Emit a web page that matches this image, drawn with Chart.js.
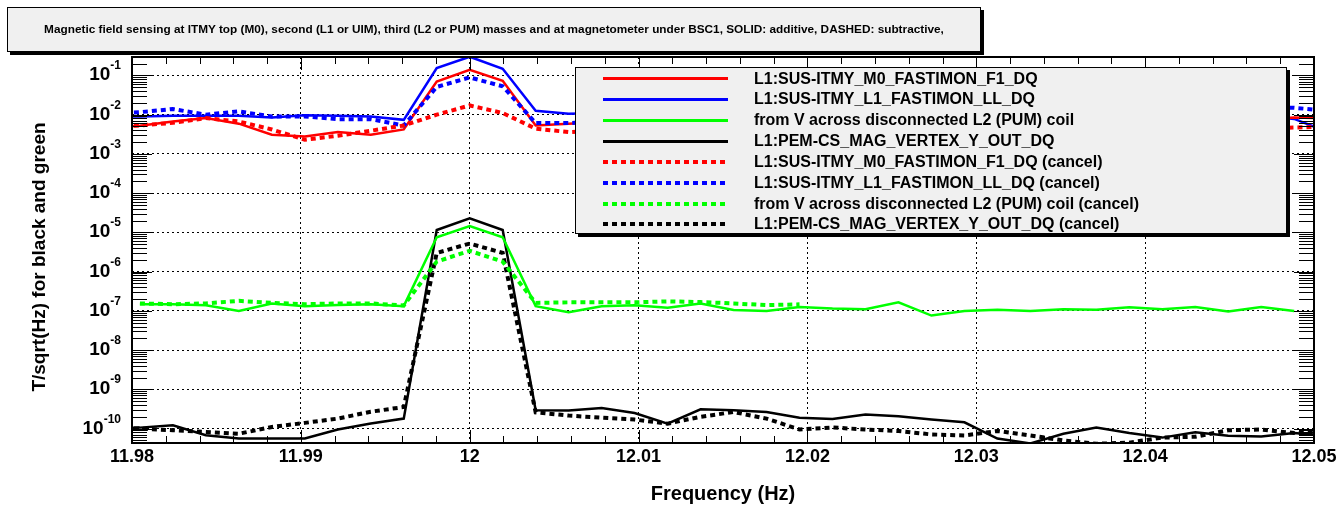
<!DOCTYPE html>
<html>
<head>
<meta charset="utf-8">
<script src="https://cdn.jsdelivr.net/npm/chart.js@4.4.1/dist/chart.umd.min.js"></script>
<style>
  html, body { margin: 0; padding: 0; background: #fff; }
  #wrap { position: relative; width: 1340px; height: 507px; font-family: "Liberation Sans", Arial, sans-serif; }
  #plot { position: absolute; left: 0; top: 0; }
  .pave { position: absolute; background: #f0f0f0; border: 1px solid #000; box-shadow: 3px 3px 0 #000; box-sizing: border-box; }
  #title { left: 7px; top: 7px; width: 974px; height: 45px; font-weight: bold; font-size: 11.8px; text-align: center; line-height: 42px; white-space: nowrap; }
  #legend { left: 575px; top: 67px; width: 712px; height: 167px; }
  .row { position: absolute; left: 0; width: 100%; height: 20px; }
  .sample { position: absolute; left: 27px; width: 125px; }
  .label { position: absolute; left: 178px; top: 0; line-height: 20px; font-size: 16px; font-weight: bold; white-space: nowrap; }
</style>
</head>
<body>
<div id="wrap">
  <canvas id="plot" width="1340" height="507"></canvas>
  <div id="title" class="pave">Magnetic field sensing at ITMY top (M0), second (L1 or UIM), third (L2 or PUM) masses and at magnetometer under BSC1, SOLID: additive, DASHED: subtractive,</div>
  <div id="legend" class="pave"></div>
</div>
<script>
document.addEventListener('DOMContentLoaded', () => {

    // --- Data (frequency bins, 1/512 Hz apart) ---
    const freqHz = [
        11.978516, 11.980469, 11.982422, 11.984375, 11.986328, 11.988281, 11.990234, 11.992188,
        11.994141, 11.996094, 11.998047, 12.0, 12.001953, 12.003906, 12.005859, 12.007813,
        12.009766, 12.011719, 12.013672, 12.015625, 12.017578, 12.019531, 12.021484, 12.023438,
        12.025391, 12.027344, 12.029297, 12.03125, 12.033203, 12.035156, 12.037109, 12.039063,
        12.041016, 12.042969, 12.044922, 12.046875, 12.048828, 12.050781
    ];

    // solid = additive
    const m0Add = [
        4.8e-3, 5.2e-3, 6.7e-3, 8.2e-3, 5.9e-3, 3.1e-3, 2.8e-3, 3.6e-3,
        3.1e-3, 4.2e-3, 7.0e-2, 0.14, 7.3e-2, 5.3e-3, 5.9e-3, 6.5e-3,
        7.2e-3, 5.8e-3, 8.0e-3, 6.9e-3, 5.4e-3, 7.5e-3, 6.1e-3, 8.4e-3,
        6.6e-3, 7.1e-3, 5.9e-3, 6.8e-3, 7.7e-3, 6.3e-3, 8.1e-3, 7.0e-3,
        6.2e-3, 7.9e-3, 8.6e-3, 7.4e-3, 8.5e-3, 8.0e-3
    ];
    const l1Add = [
        8.8e-3, 9.0e-3, 9.4e-3, 9.4e-3, 9.4e-3, 8.5e-3, 9.7e-3, 9.4e-3,
        9.0e-3, 7.4e-3, 0.155, 0.30, 0.148, 1.26e-2, 1.06e-2, 1.1e-2,
        9.6e-3, 1.2e-2, 1.05e-2, 9.2e-3, 1.15e-2, 1.3e-2, 1.0e-2, 9.8e-3,
        1.18e-2, 1.07e-2, 9.5e-3, 1.12e-2, 1.25e-2, 1.03e-2, 9.7e-3, 1.1e-2,
        1.2e-2, 9.9e-3, 1.05e-2, 9.5e-3, 7.8e-3, 3.7e-3
    ];
    const pumAdd = [
        null, 1.48e-7, 1.48e-7, 1.4e-7, 1.0e-7, 1.55e-7, 1.32e-7, 1.42e-7,
        1.48e-7, 1.32e-7, 7.5e-6, 1.45e-5, 7.5e-6, 1.32e-7, 9.2e-8, 1.32e-7,
        1.4e-7, 1.2e-7, 1.55e-7, 1.05e-7, 1.0e-7, 1.26e-7, 1.15e-7, 1.1e-7,
        1.66e-7, 7.6e-8, 9.9e-8, 1.07e-7, 1.0e-7, 1.1e-7, 1.07e-7, 1.23e-7,
        1.1e-7, 1.26e-7, 9.6e-8, 1.26e-7, 1.0e-7, null
    ];
    const magAdd = [
        1.0e-10, 1.06e-10, 1.22e-10, 6.8e-11, 5.6e-11, 5.6e-11, 5.6e-11, 9.5e-11,
        1.35e-10, 1.8e-10, 1.15e-5, 2.3e-5, 1.15e-5, 2.95e-10, 2.9e-10, 3.36e-10,
        2.5e-10, 1.34e-10, 3.1e-10, 2.93e-10, 2.65e-10, 1.9e-10, 1.76e-10, 2.28e-10,
        2.06e-10, 1.7e-10, 1.45e-10, 5.6e-11, 4.2e-11, 7.4e-11, 1.07e-10, 7.7e-11,
        5.9e-11, 8.1e-11, 6.6e-11, 6.3e-11, 7.7e-11, 6.5e-11
    ];

    // dotted = subtractive (cancel)
    const m0Sub = [
        5.0e-3, 5.3e-3, 6.2e-3, 8.2e-3, 6.7e-3, 4.2e-3, 2.3e-3, 2.9e-3,
        3.9e-3, 5.3e-3, 1.0e-2, 1.72e-2, 1.1e-2, 4.4e-3, 3.6e-3, 3.9e-3,
        4.6e-3, 3.5e-3, 4.1e-3, 5.0e-3, 3.8e-3, 4.4e-3, 3.3e-3, 4.8e-3,
        4.0e-3, 3.6e-3, 4.5e-3, 5.2e-3, 4.2e-3, 3.7e-3, 4.9e-3, 4.3e-3,
        5.1e-3, 4.6e-3, 3.9e-3, 4.4e-3, 4.7e-3, 5.0e-3
    ];
    const l1Sub = [
        1.05e-2, 1.16e-2, 1.39e-2, 1.0e-2, 1.21e-2, 9.0e-3, 9.0e-3, 7.7e-3,
        7.7e-3, 5.3e-3, 5.1e-2, 8.9e-2, 5.3e-2, 6.1e-3, 6.1e-3, 6.8e-3,
        8.2e-3, 7.1e-3, 9.4e-3, 1.08e-2, 8.6e-3, 7.3e-3, 9.9e-3, 1.2e-2,
        1.05e-2, 8.8e-3, 1.15e-2, 1.3e-2, 1.1e-2, 1.25e-2, 1.4e-2, 1.2e-2,
        1.35e-2, 1.5e-2, 1.3e-2, 1.45e-2, 1.5e-2, 1.25e-2
    ];
    const pumSub = [
        null, 1.55e-7, 1.48e-7, 1.55e-7, 1.8e-7, 1.6e-7, 1.48e-7, 1.55e-7,
        1.55e-7, 1.37e-7, 1.8e-6, 3.4e-6, 1.8e-6, 1.6e-7, 1.65e-7, 1.65e-7,
        1.65e-7, 1.75e-7, 1.68e-7, 1.55e-7, 1.4e-7, 1.47e-7, null, null,
        null, null, null, null, null, null, null, null,
        null, null, null, null, null, null
    ];
    const magSub = [
        1.05e-10, 1.0e-10, 9.1e-11, 8.2e-11, 7.4e-11, 1.1e-10, 1.4e-10, 1.8e-10,
        2.7e-10, 3.55e-10, 3.0e-6, 5.2e-6, 3.0e-6, 2.6e-10, 2.15e-10, 1.9e-10,
        1.7e-10, 1.34e-10, 2.0e-10, 2.65e-10, 1.8e-10, 9.5e-11, 1.07e-10, 9.5e-11,
        8.7e-11, 7.1e-11, 6.7e-11, 8.7e-11, 6.7e-11, 5.0e-11, 4.1e-11, 4.4e-11,
        5.9e-11, 6.2e-11, 9.1e-11, 9.5e-11, 7.7e-11, 7.7e-11
    ];

    const seriesLabels = [
        'L1:SUS-ITMY_M0_FASTIMON_F1_DQ',
        'L1:SUS-ITMY_L1_FASTIMON_LL_DQ',
        'from V across disconnected L2 (PUM) coil',
        'L1:PEM-CS_MAG_VERTEX_Y_OUT_DQ',
        'L1:SUS-ITMY_M0_FASTIMON_F1_DQ (cancel)',
        'L1:SUS-ITMY_L1_FASTIMON_LL_DQ (cancel)',
        'from V across disconnected L2 (PUM) coil (cancel)',
        'L1:PEM-CS_MAG_VERTEX_Y_OUT_DQ (cancel)'
    ];
    const seriesValues = [m0Add, l1Add, pumAdd, magAdd, m0Sub, l1Sub, pumSub, magSub];

    const xTickValues = [11.98, 11.99, 12.0, 12.01, 12.02, 12.03, 12.04, 12.05];
    const xTickLabels = ['11.98', '11.99', '12', '12.01', '12.02', '12.03', '12.04', '12.05'];
    const yTickExponents = [-10, -9, -8, -7, -6, -5, -4, -3, -2, -1];

    // --- Styles ---
    const lineColors = ['#ff0000', '#0000ff', '#00ff00', '#000000'];
    const FONT = "'Liberation Sans', Arial, sans-serif";

    const datasets = seriesValues.map((vals, i) => {
        const dotted = i >= 4;
        return {
            label: seriesLabels[i],
            data: freqHz.map((f, j) => ({ x: f, y: vals[j] })),
            borderColor: lineColors[i % 4],
            borderWidth: dotted ? 4 : 2.5,
            borderDash: dotted ? [5, 4] : [],
            pointRadius: 0,
            tension: 0,
            fill: false,
            clip: 0,
            order: dotted ? 0 : 1
        };
    });

    // ROOT style frame, inward ticks and axis labels
    const rootAxes = {
        id: 'rootAxes',
        afterDraw(chart) {
            const { ctx, chartArea: a, scales: { x, y } } = chart;
            ctx.save();
            ctx.strokeStyle = '#000';
            ctx.fillStyle = '#000';

            // x ticks, bottom and top
            ctx.lineWidth = 1;
            ctx.beginPath();
            for (let i = 0; i < xTickValues.length; i++) {
                const px = Math.round(x.getPixelForValue(xTickValues[i])) + 0.5;
                ctx.moveTo(px, a.bottom); ctx.lineTo(px, a.bottom - 13);
                ctx.moveTo(px, a.top); ctx.lineTo(px, a.top + 13);
                if (i < xTickValues.length - 1) {
                    const step = (xTickValues[i + 1] - xTickValues[i]) / 5;
                    for (let m = 1; m < 5; m++) {
                        const pm = Math.round(x.getPixelForValue(xTickValues[i] + m * step)) + 0.5;
                        ctx.moveTo(pm, a.bottom); ctx.lineTo(pm, a.bottom - 7);
                        ctx.moveTo(pm, a.top); ctx.lineTo(pm, a.top + 7);
                    }
                }
            }
            // y ticks, left and right
            for (let e = -11; e <= -1; e++) {
                for (let m = 1; m <= 9; m++) {
                    const v = m * Math.pow(10, e);
                    if (v < y.min || v > y.max) continue;
                    const len = m === 1 ? 20 : 15;
                    const py = Math.round(y.getPixelForValue(v)) + 0.5;
                    ctx.moveTo(a.left, py); ctx.lineTo(a.left + len, py);
                    ctx.moveTo(a.right, py); ctx.lineTo(a.right - len, py);
                }
            }
            ctx.stroke();

            // frame
            ctx.lineWidth = 2;
            ctx.strokeRect(a.left, a.top, a.right - a.left, a.bottom - a.top);

            // x tick labels
            ctx.font = `bold 18px ${FONT}`;
            ctx.textAlign = 'center';
            ctx.textBaseline = 'alphabetic';
            xTickValues.forEach((v, i) => {
                ctx.fillText(xTickLabels[i], x.getPixelForValue(v), a.bottom + 19);
            });

            // y tick labels: 10 with raised exponent
            ctx.textAlign = 'right';
            yTickExponents.forEach(e => {
                const py = y.getPixelForValue(Math.pow(10, e));
                const expText = String(e);
                ctx.font = `bold 12px ${FONT}`;
                const ew = ctx.measureText(expText).width;
                ctx.fillText(expText, a.left - 11, py - 6);
                ctx.font = `bold 19px ${FONT}`;
                ctx.fillText('10', a.left - 11 - ew, py + 5);
            });

            // axis titles
            ctx.font = `bold 20px ${FONT}`;
            ctx.textAlign = 'center';
            ctx.fillText('Frequency (Hz)', (a.left + a.right) / 2, a.bottom + 57);
            ctx.font = `bold 19px ${FONT}`;
            ctx.translate(45, 257);
            ctx.rotate(-Math.PI / 2);
            ctx.fillText('T/sqrt(Hz) for black and green', 0, 0);
            ctx.restore();
        }
    };

    const chart = new Chart(document.getElementById('plot'), {
        type: 'line',
        data: { datasets },
        options: {
            responsive: false,
            animation: false,
            devicePixelRatio: 1,
            layout: { padding: { left: 132, right: 26, top: 57, bottom: 64 } },
            plugins: { legend: { display: false }, tooltip: { enabled: false }, title: { display: false } },
            scales: {
                x: {
                    type: 'linear',
                    min: 11.98,
                    max: 12.05,
                    afterBuildTicks: s => { s.ticks = xTickValues.map(v => ({ value: v })); },
                    ticks: { display: false },
                    grid: { color: '#000', lineWidth: 1, drawTicks: false },
                    border: { display: false, dash: [2, 3] }
                },
                y: {
                    type: 'logarithmic',
                    min: 4.3e-11,
                    max: 0.295,
                    afterBuildTicks: s => { s.ticks = yTickExponents.map(e => ({ value: Math.pow(10, e) })); },
                    ticks: { display: false },
                    grid: { color: '#000', lineWidth: 1, drawTicks: false },
                    border: { display: false, dash: [2, 3] }
                }
            }
        },
        plugins: [rootAxes]
    });

    // --- Legend box (ROOT TLegend look) ---
    const legendEl = document.getElementById('legend');
    chart.data.datasets.forEach((ds, i) => {
        const row = document.createElement('div');
        row.className = 'row';
        row.style.top = (0.5 + i * 20.85) + 'px';
        const sample = document.createElement('div');
        sample.className = 'sample';
        if (ds.borderDash.length) {
            sample.style.top = '8px';
            sample.style.height = '4px';
            sample.style.background = `repeating-linear-gradient(to right, ${ds.borderColor} 0 5px, transparent 5px 9px)`;
        } else {
            sample.style.top = '8.5px';
            sample.style.height = '3px';
            sample.style.background = ds.borderColor;
        }
        const label = document.createElement('div');
        label.className = 'label';
        label.textContent = ds.label;
        row.appendChild(sample);
        row.appendChild(label);
        legendEl.appendChild(row);
    });
});
</script>
</body>
</html>
